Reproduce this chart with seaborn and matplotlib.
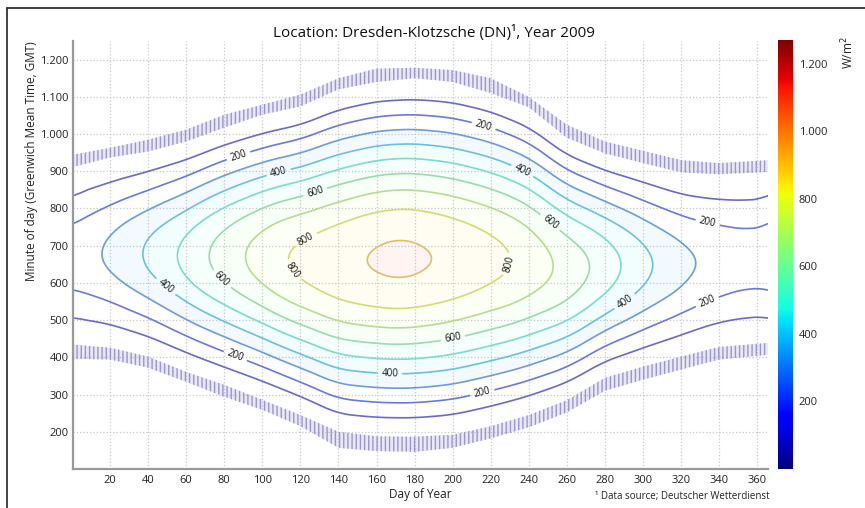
import numpy as np
import matplotlib
matplotlib.use("Agg")
import matplotlib.pyplot as plt
from matplotlib.colors import Normalize
from matplotlib.cm import ScalarMappable
from matplotlib.ticker import FuncFormatter
from matplotlib.lines import Line2D
import seaborn as sns

# sunrise / sunset edges of the measured series (minute of day, GMT)
band_days = [1, 20, 40, 60, 80, 100, 120, 140, 160, 180, 200, 220, 240, 260, 280, 300, 320, 340, 366]
sunset_hi = [945, 963, 985, 1012, 1052, 1079, 1106, 1150, 1176, 1178, 1172, 1150, 1100, 1025, 980, 955, 930, 922, 930]
sunset_lo = [912, 937, 953, 980, 1017, 1052, 1074, 1120, 1140, 1150, 1140, 1110, 1072, 990, 948, 922, 897, 892, 898]
sunrise_hi = [434, 426, 402, 361, 326, 286, 245, 200, 188, 187, 192, 215, 245, 285, 345, 375, 402, 428, 439]
sunrise_lo = [396, 394, 372, 334, 294, 259, 215, 157, 148, 146, 157, 182, 212, 252, 310, 340, 367, 394, 407]

# noon value of the fitted irradiance field (W/m2)
peak_days = [1, 16, 37, 55, 71, 90, 111, 135, 155, 172, 189, 209, 233, 254, 273, 289, 305, 327, 345, 355, 366]
peak_wm2 = [252, 300, 400, 500, 600, 700, 800, 865, 908, 928, 908, 865, 800, 700, 600, 500, 400, 300, 258, 245, 252]

# shape across the day: offset from noon / half day length -> share of noon value
profile_u = [0.0, 0.06, 0.251, 0.369, 0.455, 0.537, 0.619, 0.701, 0.772, 0.856, 0.94]
profile_f = [1.0, 0.984, 0.874, 0.765, 0.656, 0.546, 0.437, 0.328, 0.219, 0.109, 0.0]

plain_levels = [100, 300, 500, 700, 900]
label_levels = [200, 400, 600, 800]
day_ticks = list(range(20, 361, 20))
minute_ticks = list(range(200, 1201, 100))
cbar_ticks = [200, 400, 600, 800, 1000, 1200]

grid_d = np.arange(1, 366.01, 0.5)
grid_m = np.arange(100, 1252, 2)


def smooth(days, vals, win=31):
    y = np.interp(grid_d, days, vals)
    pad = win // 2
    yp = np.concatenate([y[-pad - 1:-1], y, y[1:pad + 1]])
    return np.convolve(yp, np.ones(win) / win, mode="valid")


set_mid = (np.array(sunset_hi) + np.array(sunset_lo)) / 2
rise_mid = (np.array(sunrise_hi) + np.array(sunrise_lo)) / 2
noon = smooth(band_days, (set_mid + rise_mid) / 2)
half = smooth(band_days, (set_mid - rise_mid) / 2)
peak = smooth(peak_days, peak_wm2, win=33)

# even fit (in u^2) so the lines stay round around noon
coef = np.polyfit(np.square(profile_u), profile_f, 3)
D, M = np.meshgrid(grid_d, grid_m)
U = np.abs(M - noon[None, :]) / half[None, :]
prof = np.where(U < 0.94, np.clip(np.polyval(coef, U ** 2), 0, None), 0)
field = peak[None, :] * prof

sns.set_theme(style="white")
plt.rcParams["font.family"] = ["Open Sans", "DejaVu Sans"]
cmap = matplotlib.colormaps["jet"]
norm = Normalize(0, 1270)


# contour lines in the original are washed-out jet colours
def pale(levs):
    base = np.array([0.76, 0.75, 0.76])
    return [tuple(0.45 * np.array(cmap(norm(v))[:3]) + 0.55 * base) for v in levs]


fig = plt.figure(figsize=(8.65, 5.08), dpi=100)
ax = fig.add_axes([73 / 865, 1 - 469 / 508, 695 / 865, 428 / 508])

# faint tint standing in for the scattered measurements
ax.contourf(D, M, field, levels=[300, 400, 500, 600, 700, 800, 900, 1300],
            cmap=cmap, norm=norm, alpha=0.05)

# sunrise and sunset edges of the data
plt.rcParams["hatch.linewidth"] = 1.0
for lo, hi in [(sunset_lo, sunset_hi), (sunrise_lo, sunrise_hi)]:
    ax.fill_between(band_days, lo, hi, facecolor=(0.62, 0.6, 0.84, 0.22),
                    edgecolor="#9b95cf", hatch="||||", linewidth=0)

ax.contour(D, M, field, levels=plain_levels, colors=pale(plain_levels), linewidths=1.2)
cs = ax.contour(D, M, field, levels=label_levels, colors=pale(label_levels), linewidths=1.2)
label_pos = [(86.7, 953), (84.6, 388), (216, 1017), (215, 318), (334, 762), (334, 547),
             (107.7, 915), (48, 582), (237.5, 910), (167, 361), (291.6, 541),
             (126.6, 864), (76.7, 600), (254, 780), (200, 455),
             (121, 735), (113, 622), (230, 649)]
labels = ax.clabel(cs, inline=True, fontsize=7, fmt="%d",
                   colors="k", manual=label_pos, inline_spacing=4)
for t in labels:
    t.set_color("#111111")
    t.set_alpha(1)

ax.set_xlim(0.5, 365.7)
ax.set_ylim(100, 1250)
ax.set_xticks(day_ticks)
ax.set_yticks(minute_ticks)
dot_fmt = FuncFormatter(lambda v, p: f"{v:,.0f}".replace(",", "."))
ax.yaxis.set_major_formatter(dot_fmt)
ax.grid(True, color="#c8c8c8", linestyle=":", linewidth=0.9)
ax.tick_params(direction="in", length=4, width=1, color="#666666",
               labelsize=8, pad=3, labelcolor="#222222")
ax.tick_params(axis="x", pad=4)
for s in ["top", "right"]:
    ax.spines[s].set_visible(False)
for s in ["left", "bottom"]:
    ax.spines[s].set_color("#9a9a9a")
    ax.spines[s].set_linewidth(1.6)
ax.set_xlabel("Day of Year", fontsize=8.5, labelpad=2, color="#222222")

fig.text(32 / 865, 1 - 161 / 508, "Minute of day (Greenwich Mean Time, GMT)",
         rotation=90, ha="center", va="center", fontsize=8.5, color="#222222")
fig.text(434 / 865, 1 - 33 / 508, "Location: Dresden-Klotzsche (DN)¹, Year 2009",
         ha="center", va="center", fontsize=11, color="#111111")
fig.text(770 / 865, 1 - 497 / 508, "¹ Data source; Deutscher Wetterdienst",
         ha="right", va="center", fontsize=7, color="#222222")

cax = fig.add_axes([778 / 865, 1 - 469 / 508, 15 / 865, 429 / 508])
cb = fig.colorbar(ScalarMappable(norm=norm, cmap=cmap), cax=cax, ticks=cbar_ticks)
cb.outline.set_visible(False)
cax.yaxis.set_major_formatter(dot_fmt)
cax.tick_params(direction="in", length=3, color="#333333", labelsize=8, pad=4)
fig.text(848 / 865, 1 - 53 / 508, "W/m$^2$", rotation=90, ha="center", va="center",
         fontsize=8.5, color="#222222")

# frame of the original figure
fig.add_artist(Line2D([7 / 865, 1], [1 - 8 / 508, 1 - 8 / 508],
                      transform=fig.transFigure, color="#333333", linewidth=1.3))
fig.add_artist(Line2D([7 / 865, 7 / 865], [0, 1 - 8 / 508],
                      transform=fig.transFigure, color="#333333", linewidth=1.3))

fig.savefig("out.png", dpi=100)
